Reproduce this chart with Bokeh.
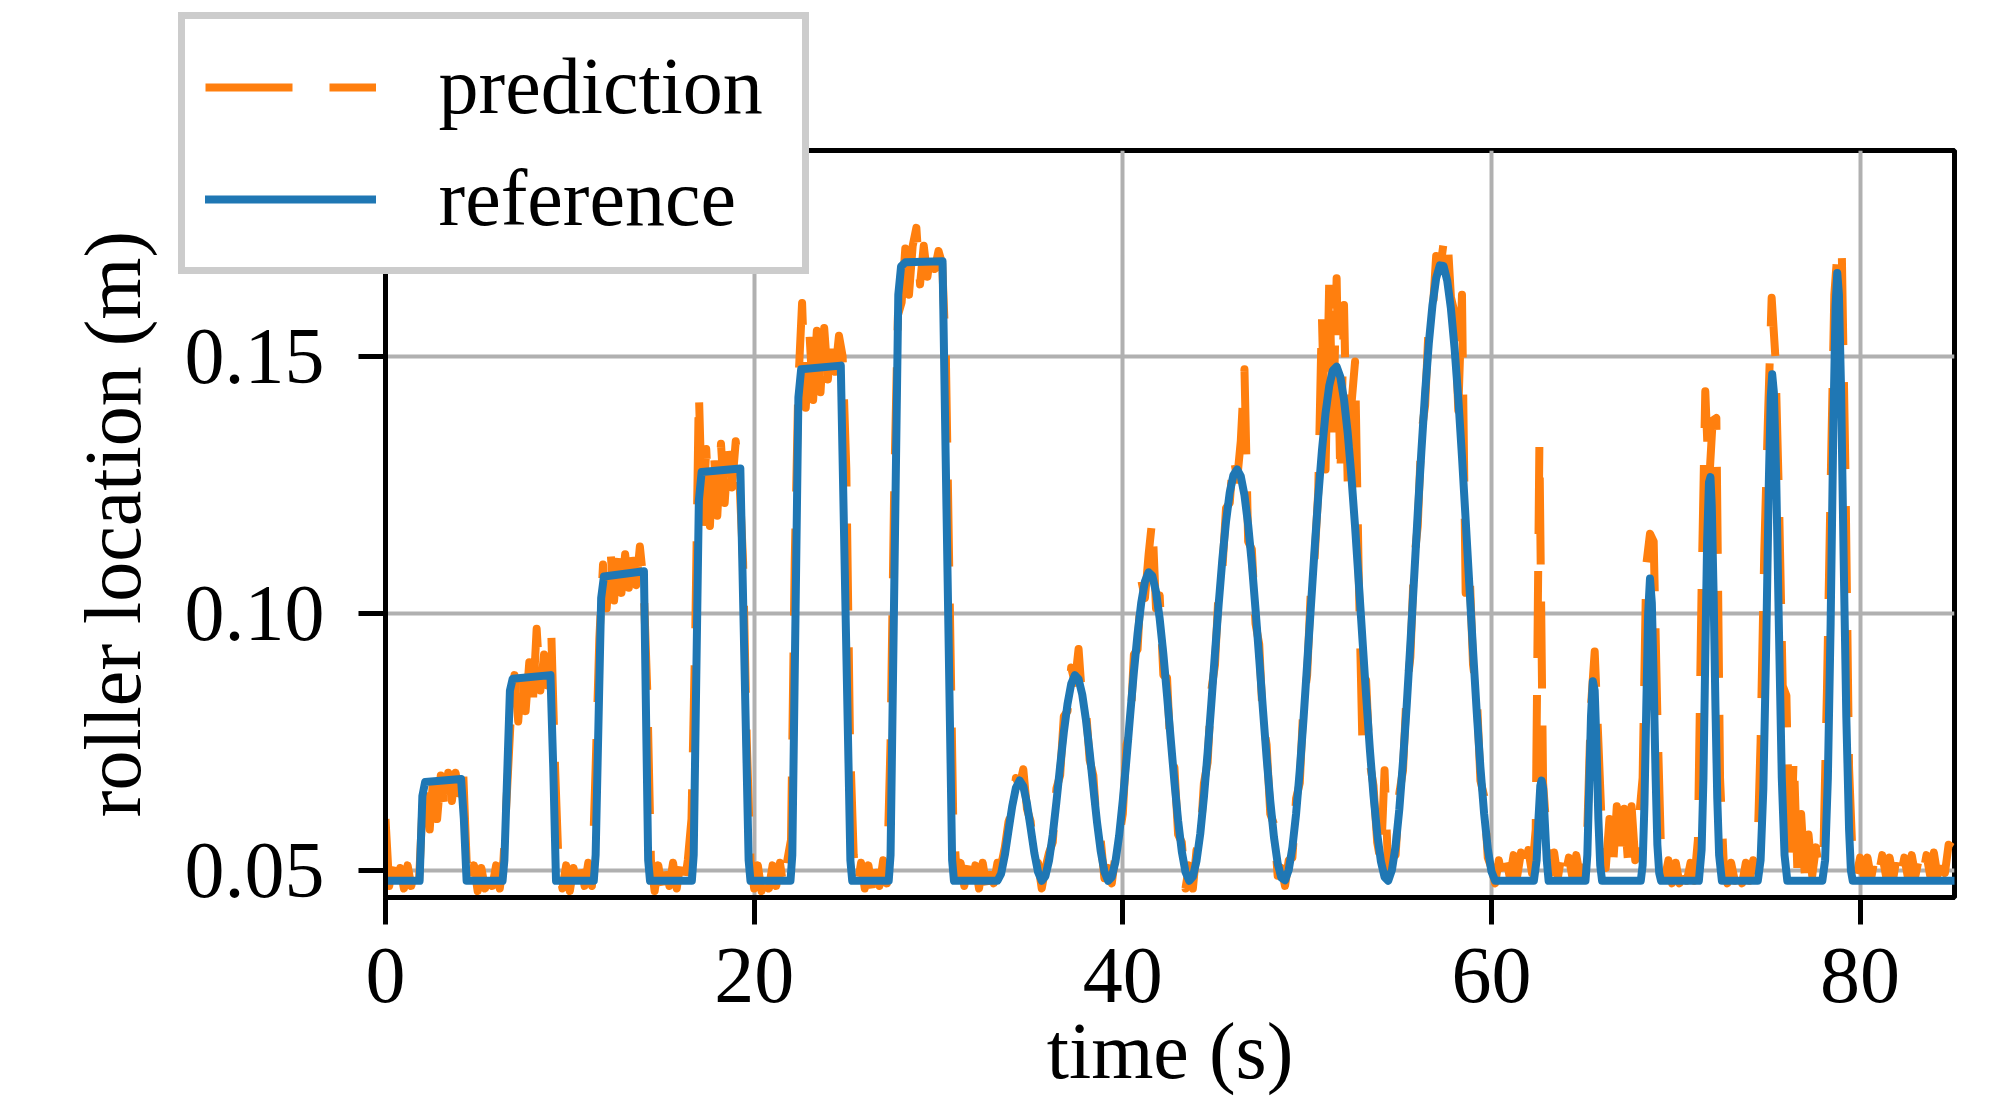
from bokeh.plotting import figure
from bokeh.layouts import column
from bokeh.models import Range1d, FixedTicker, NumeralTickFormatter, Legend, LegendItem
from bokeh.core.properties import value
from bokeh.embed import file_html
from bokeh.resources import INLINE

# ---------------- data ----------------
x_ticks = [0, 20, 40, 60, 80]
y_ticks = [0.05, 0.10, 0.15]
x_label = "time (s)"
y_label = "roller location (m)"
series_names = ["prediction", "reference"]

# reference signal: step pulses
ref_pulse_t = [0.0, 1.85, 2.0, 2.15, 4.1, 4.25, 4.4,
               6.35, 6.45, 6.75, 6.9, 8.95, 9.1, 9.25,
               11.3, 11.4, 11.7, 11.85, 14.02, 14.25, 14.35,
               16.62, 16.72, 17.0, 17.15, 19.25, 19.7, 19.8,
               21.97, 22.07, 22.4, 22.55, 24.7, 25.22, 25.32,
               27.3, 27.4, 27.82, 27.97, 28.2, 30.22, 30.74, 30.84]
ref_pulse_v = [0.048, 0.048, 0.0645, 0.0672, 0.0678, 0.060, 0.048,
               0.048, 0.052, 0.085, 0.0873, 0.0880, 0.070, 0.048,
               0.048, 0.053, 0.103, 0.1072, 0.1082, 0.052, 0.048,
               0.048, 0.053, 0.122, 0.1275, 0.1282, 0.052, 0.048,
               0.048, 0.053, 0.142, 0.1475, 0.1482, 0.052, 0.048,
               0.048, 0.053, 0.162, 0.1675, 0.1683, 0.1685, 0.052, 0.048]

# reference signal: smooth waves, sampled every 0.2 s from 33.2 s
ref_wave_t0 = 33.2
ref_wave_dt = 0.2
ref_wave_v = [0.048, 0.0494, 0.053, 0.0578, 0.0625, 0.0661, 0.0675, 0.0664, 0.063, 0.0583,
              0.0534, 0.0497, 0.048, 0.0489, 0.052, 0.057, 0.0634, 0.0703, 0.0769, 0.0824,
              0.0863, 0.088, 0.0872, 0.0842, 0.0793, 0.073, 0.0661, 0.0594, 0.0538, 0.0498,
              0.048, 0.0487, 0.0517, 0.0568, 0.0637, 0.0717, 0.0803, 0.0886, 0.096, 0.1021,
              0.1062, 0.108, 0.1073, 0.1042, 0.099, 0.0921, 0.084, 0.0755, 0.0672, 0.0597,
              0.0537, 0.0497, 0.048, 0.0488, 0.0519, 0.0571, 0.0643, 0.0729, 0.0824, 0.0922,
              0.1018, 0.1105, 0.1179, 0.1235, 0.1269, 0.128, 0.1267, 0.123, 0.1172, 0.1097,
              0.1008, 0.0912, 0.0814, 0.072, 0.0635, 0.0565, 0.0514, 0.0486, 0.0481, 0.0501,
              0.0545, 0.061, 0.0695, 0.0793, 0.0901, 0.1012, 0.1122, 0.1226, 0.1316, 0.139,
              0.1443, 0.1473, 0.148, 0.146, 0.1416, 0.1351, 0.1267, 0.1169, 0.1061, 0.095,
              0.084, 0.0737, 0.0646, 0.0572, 0.0518, 0.0487, 0.048, 0.0501, 0.0548, 0.0619,
              0.0712, 0.082, 0.094, 0.1067, 0.1195, 0.1317, 0.1429, 0.1525, 0.160, 0.1652,
              0.1677, 0.1676, 0.1647, 0.1593, 0.1515, 0.1418, 0.1305, 0.1182, 0.1055, 0.0928,
              0.0809, 0.0701, 0.0611, 0.0542, 0.0498, 0.048]

# reference signal: narrow spikes and final baseline
ref_spike_t = [62.3, 62.45, 62.55, 62.65, 62.72, 62.8, 62.9, 63.0, 63.1,
               65.1, 65.2, 65.3, 65.4, 65.5, 65.6, 65.7, 65.8, 65.9, 66.0,
               68.1, 68.2, 68.3, 68.4, 68.5, 68.6, 68.7, 68.8, 68.9, 69.0, 69.1, 69.2,
               71.25, 71.4, 71.5, 71.6, 71.7, 71.8, 71.88, 71.95, 72.05, 72.15, 72.25, 72.35, 72.5,
               74.45, 74.6, 74.75, 74.9, 75.05, 75.15, 75.23, 75.32, 75.45, 75.6, 75.75, 75.9, 76.05,
               77.95, 78.1, 78.25, 78.4, 78.55, 78.67, 78.76, 78.85, 78.97, 79.1, 79.25, 79.4, 79.5, 79.6,
               85.1]
ref_spike_v = [0.048, 0.052, 0.060, 0.0665, 0.0675, 0.066, 0.059, 0.052, 0.048,
               0.048, 0.053, 0.066, 0.080, 0.0868, 0.085, 0.074, 0.060, 0.051, 0.048,
               0.048, 0.051, 0.063, 0.082, 0.100, 0.1068, 0.102, 0.087, 0.069, 0.055, 0.0495, 0.048,
               0.048, 0.054, 0.068, 0.092, 0.114, 0.1255, 0.1265, 0.121, 0.104, 0.082, 0.064, 0.053, 0.048,
               0.048, 0.052, 0.066, 0.093, 0.126, 0.142, 0.1465, 0.143, 0.126, 0.096, 0.068, 0.053, 0.048,
               0.048, 0.052, 0.068, 0.098, 0.137, 0.160, 0.1662, 0.162, 0.143, 0.112, 0.080, 0.058, 0.050, 0.048,
               0.048]

# prediction (noisy), sampled every 0.2 s from 0 s
pred_dt = 0.2
pred_v = [0.060, 0.047, 0.051, 0.046, 0.0505, 0.0465, 0.051, 0.047, 0.0505, 0.0465,
          0.062, 0.0685, 0.058, 0.069, 0.060, 0.0685, 0.062, 0.069, 0.0635, 0.069,
          0.065, 0.0705, 0.052, 0.0465, 0.051, 0.046, 0.0505, 0.0465, 0.051, 0.047,
          0.051, 0.0465, 0.052, 0.066, 0.080, 0.088, 0.079, 0.0895, 0.081, 0.0905,
          0.083, 0.097, 0.085, 0.092, 0.086, 0.0955, 0.070, 0.050, 0.0465, 0.051,
          0.046, 0.0505, 0.0465, 0.051, 0.047, 0.0515, 0.047, 0.070, 0.095, 0.1095,
          0.101, 0.1125, 0.1025, 0.112, 0.104, 0.1115, 0.105, 0.112, 0.1055, 0.113,
          0.106, 0.085, 0.052, 0.046, 0.051, 0.0465, 0.0515, 0.047, 0.0515, 0.0465,
          0.0515, 0.047, 0.052, 0.060, 0.095, 0.1432, 0.117, 0.132, 0.117, 0.1325,
          0.119, 0.133, 0.1215, 0.1325, 0.1245, 0.1335, 0.126, 0.110, 0.075, 0.052,
          0.0465, 0.051, 0.046, 0.0505, 0.0465, 0.051, 0.047, 0.0515, 0.0465, 0.052,
          0.056, 0.110, 0.145, 0.1604, 0.140, 0.1545, 0.1415, 0.155, 0.143, 0.1555,
          0.1455, 0.1545, 0.147, 0.154, 0.150, 0.128, 0.075, 0.053, 0.047, 0.0515,
          0.0465, 0.051, 0.046, 0.0515, 0.047, 0.052, 0.0475, 0.075, 0.125, 0.158,
          0.1605, 0.171, 0.162, 0.1715, 0.175, 0.164, 0.1715, 0.1655, 0.171, 0.167,
          0.1705, 0.168, 0.150, 0.105, 0.060, 0.0485, 0.0515, 0.047, 0.0515, 0.0465,
          0.051, 0.0465, 0.0515, 0.047, 0.052, 0.0475, 0.0515, 0.051, 0.0545, 0.0595,
          0.0615, 0.068, 0.0665, 0.0697, 0.062, 0.0595, 0.052, 0.0515, 0.0465, 0.0505,
          0.0535, 0.0555, 0.066, 0.0685, 0.080, 0.081, 0.0895, 0.0865, 0.0931, 0.083,
          0.0815, 0.0715, 0.0685, 0.058, 0.056, 0.0485, 0.0505, 0.0475, 0.053, 0.0565,
          0.061, 0.0745, 0.077, 0.092, 0.093, 0.1065, 0.103, 0.1115, 0.1184, 0.101,
          0.1035, 0.088, 0.0875, 0.072, 0.070, 0.057, 0.0555, 0.0465, 0.051, 0.0465,
          0.054, 0.0555, 0.067, 0.071, 0.085, 0.090, 0.1045, 0.1085, 0.1205, 0.1215,
          0.131, 0.126, 0.1335, 0.1475, 0.114, 0.1125, 0.098, 0.094, 0.079, 0.0745,
          0.061, 0.059, 0.049, 0.0505, 0.047, 0.052, 0.0525, 0.064, 0.067, 0.0825,
          0.088, 0.1045, 0.1105, 0.1235, 0.158, 0.128, 0.165, 0.135, 0.1652, 0.126,
          0.160, 0.1255, 0.1405, 0.149, 0.107, 0.0745, 0.087, 0.071, 0.0665, 0.0555,
          0.0515, 0.0695, 0.0495, 0.0525, 0.053, 0.065, 0.0695, 0.085, 0.0915, 0.110,
          0.117, 0.135, 0.1405, 0.1565, 0.158, 0.1695, 0.1665, 0.172, 0.1742, 0.1615,
          0.1585, 0.1395, 0.162, 0.104, 0.1095, 0.090, 0.0845, 0.0675, 0.0645, 0.0525,
          0.0505, 0.0475, 0.052, 0.048, 0.0525, 0.0485, 0.053, 0.049, 0.0535, 0.049,
          0.054, 0.0495, 0.058, 0.133, 0.067, 0.057, 0.0495, 0.0535, 0.0485, 0.053,
          0.049, 0.0525, 0.0485, 0.053, 0.049, 0.0535, 0.058, 0.082, 0.0926, 0.075,
          0.057, 0.0505, 0.060, 0.051, 0.0625, 0.0515, 0.062, 0.052, 0.0625, 0.052,
          0.060, 0.068, 0.1095, 0.1155, 0.114, 0.080, 0.0535, 0.0485, 0.052, 0.0475,
          0.0515, 0.0475, 0.052, 0.048, 0.0515, 0.048, 0.056, 0.105, 0.1432, 0.125,
          0.1375, 0.138, 0.068, 0.0515, 0.0475, 0.0515, 0.048, 0.052, 0.0475, 0.0515,
          0.048, 0.052, 0.050, 0.075, 0.112, 0.138, 0.1614, 0.150, 0.122, 0.0859,
          0.084, 0.050, 0.0725, 0.0495, 0.061, 0.049, 0.057, 0.049, 0.0545, 0.050,
          0.052, 0.085, 0.125, 0.162, 0.1719, 0.1715, 0.128, 0.070, 0.0515, 0.049,
          0.0525, 0.049, 0.0525, 0.0485, 0.0525, 0.049, 0.053, 0.049, 0.0525, 0.0485,
          0.053, 0.049, 0.0525, 0.0485, 0.053, 0.049, 0.0525, 0.049, 0.053, 0.049,
          0.0535, 0.049, 0.054, 0.0495, 0.055, 0.0545]

assert len(ref_pulse_t) == len(ref_pulse_v)
assert len(ref_spike_t) == len(ref_spike_v)

# sample grids
ref_wave_t = [round(ref_wave_t0 + ref_wave_dt * i, 2) for i in range(len(ref_wave_v))]
pred_t = [round(pred_dt * i, 2) for i in range(len(pred_v))]
ref_t = ref_pulse_t + ref_wave_t + ref_spike_t
ref_v = ref_pulse_v + ref_wave_v + ref_spike_v

# ---------------- styles ----------------
FONT = "Liberation Serif"
ORANGE = "#ff7f0e"
BLUE = "#1f77b4"
PRED_STYLE = dict(line_color=ORANGE, line_width=8, line_dash="87 37", line_join="round")
REF_STYLE = dict(line_color=BLUE, line_width=8, line_join="round", line_cap="round")

FIG_W, FIG_H = 1980, 1097

# ---------------- main figure ----------------
p = figure(width=FIG_W, height=FIG_H,
           x_range=Range1d(0, 85.12), y_range=Range1d(0.04475, 0.19004),
           output_backend="svg", toolbar_location=None,
           min_border_left=385, min_border_right=FIG_W - 1954,
           min_border_top=150, min_border_bottom=FIG_H - 897)
p.frame_align = False

p.background_fill_color = "white"
p.border_fill_color = "white"
p.outline_line_color = "black"
p.outline_line_width = 5
p.outline_line_alpha = 1.0

p.xaxis.ticker = FixedTicker(ticks=x_ticks)
p.yaxis.ticker = FixedTicker(ticks=y_ticks)
p.yaxis.formatter = NumeralTickFormatter(format="0.00")

for ax in (p.xaxis[0], p.yaxis[0]):
    ax.axis_line_color = "black"
    ax.axis_line_width = 5
    ax.major_tick_line_color = "black"
    ax.major_tick_line_width = 5
    ax.major_tick_out = 27
    ax.major_tick_in = 0
    ax.minor_tick_line_color = None
    ax.major_label_text_font = FONT
    ax.major_label_text_font_size = "80px"
    ax.major_label_text_color = "black"
    ax.axis_label_text_font = FONT
    ax.axis_label_text_font_size = "80px"
    ax.axis_label_text_font_style = "normal"
    ax.axis_label_text_color = "black"

p.xaxis.axis_label = x_label
p.yaxis.axis_label = y_label
p.xaxis.major_label_standoff = 24
p.yaxis.major_label_standoff = 34
p.xaxis.axis_label_standoff = 2
p.yaxis.axis_label_standoff = 25

p.grid.grid_line_color = "#b0b0b0"
p.grid.grid_line_width = 4

p.line(pred_t, pred_v, **PRED_STYLE)
p.line(ref_t, ref_v, **REF_STYLE)

# ---------------- legend (transparent figure laid over the main one) ----------------
LEG_W, LEG_H = 900, 400
leg_fig = figure(width=LEG_W, height=LEG_H, min_border=0,
                 x_axis_location=None, y_axis_location=None,
                 x_range=Range1d(-20, -10), y_range=Range1d(0, 1),
                 output_backend="svg", toolbar_location=None)
leg_fig.frame_align = False
leg_fig.outline_line_color = None
leg_fig.grid.visible = False
leg_fig.background_fill_color = None
leg_fig.border_fill_color = None
lr_pred = leg_fig.line(pred_t, pred_v, **PRED_STYLE)
lr_ref = leg_fig.line(ref_t, ref_v, **REF_STYLE)

lg = Legend(items=[LegendItem(label=value(series_names[0]), renderers=[lr_pred]),
                   LegendItem(label=value(series_names[1]), renderers=[lr_ref])],
            location=(177.5, LEG_H - 273.5), margin=0,
            border_line_color="#cccccc", border_line_width=7, border_line_alpha=1.0,
            background_fill_color="white", background_fill_alpha=1.0,
            label_text_font=FONT, label_text_font_size="80px", label_text_color="black",
            glyph_width=171, glyph_height=96, label_height=96, label_width=343,
            label_standoff=63, padding=20, spacing=16)
leg_fig.add_layout(lg, "center")

# lay the (transparent) legend figure over the top-left corner of the main plot
leg_fig.margin = (-FIG_H, 0, 0, 0)

layout = column(p, leg_fig, spacing=0)

open("out.html", "w").write(file_html(layout, INLINE))
